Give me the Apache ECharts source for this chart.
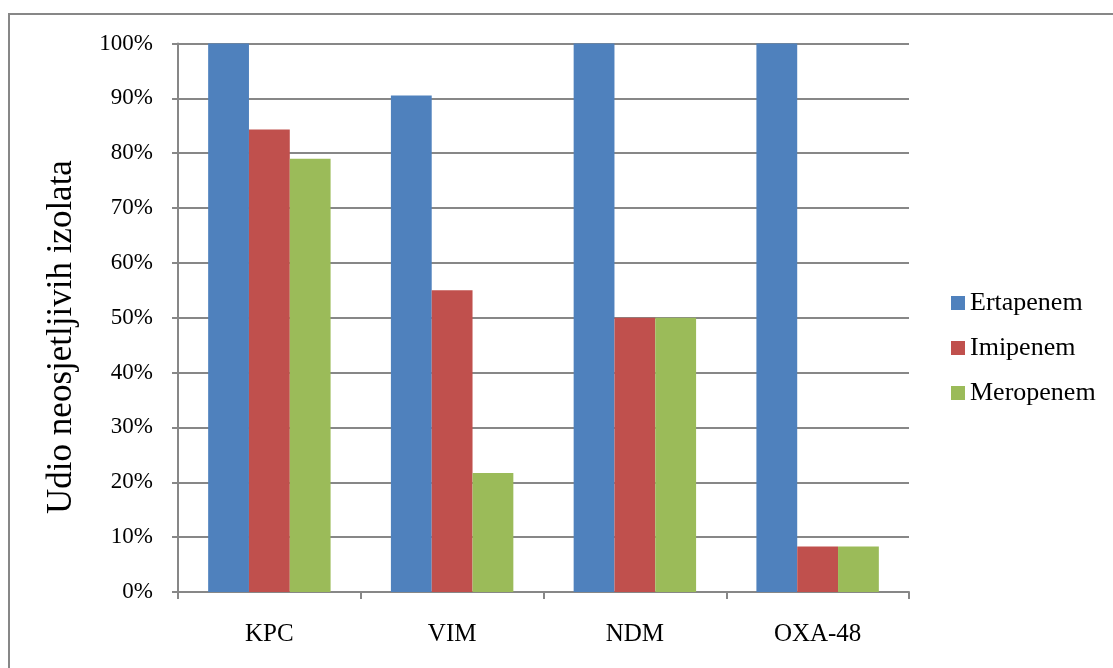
<!DOCTYPE html>
<html>
<head>
<meta charset="utf-8">
<script src="https://cdn.jsdelivr.net/npm/echarts@6/dist/echarts.min.js"></script>
<style>
  html, body { margin: 0; padding: 0; background: #fff; }
  #chart { width: 1113px; height: 668px; }
</style>
</head>
<body>
<div id="chart"></div>
<script>
const categories = ['KPC', 'VIM', 'NDM', 'OXA-48']
const ertapenem = [100, 90.5, 100, 100]
const imipenem = [84.3, 55.0, 50, 8.3]
const meropenem = [79.0, 21.7, 50, 8.3]
const yTicks = [0, 10, 20, 30, 40, 50, 60, 70, 80, 90, 100]
const yTitle = 'Udio neosjetljivih izolata'

const font = '"Liberation Serif", "Times New Roman", serif'

const chart = echarts.init(document.getElementById('chart'))

chart.setOption({
  backgroundColor: '#fff',
  animation: false,
  textStyle: { fontFamily: font, color: '#000' },
  graphic: [
    {
      type: 'rect',
      silent: true,
      shape: { x: 9, y: 14, width: 1200, height: 800 },
      style: { fill: 'none', stroke: '#878787', lineWidth: 2 }
    },
    {
      // axis title, placed like the original
      type: 'text',
      silent: true,
      x: 62,
      y: 337,
      rotation: Math.PI / 2,
      style: {
        text: yTitle,
        font: '35px ' + font,
        fill: '#000',
        align: 'center',
        verticalAlign: 'middle'
      }
    }
  ],
  legend: {
    orient: 'vertical',
    left: 951,
    top: 290,
    padding: 0,
    itemWidth: 14,
    itemHeight: 14,
    itemGap: 19,
    icon: 'rect',
    textStyle: { fontFamily: font, fontSize: 26, color: '#000' },
    data: ['Ertapenem', 'Imipenem', 'Meropenem']
  },
  grid: {
    left: 178,
    right: 1113 - 909,
    top: 43.5,
    bottom: 668 - 592,
    containLabel: false
  },
  xAxis: {
    type: 'category',
    data: categories,
    axisLine: { lineStyle: { color: '#878787', width: 2 } },
    axisTick: { show: true, length: 7, lineStyle: { color: '#878787', width: 2 } },
    axisLabel: { fontFamily: font, fontSize: 25, color: '#000', margin: 30 }
  },
  yAxis: {
    type: 'value',
    min: yTicks[0],
    max: yTicks[yTicks.length - 1],
    interval: 10,
    axisLine: { show: true, lineStyle: { color: '#878787', width: 2 } },
    axisTick: { show: true, length: 6, lineStyle: { color: '#878787', width: 2 } },
    axisLabel: {
      fontFamily: font,
      fontSize: 23,
      color: '#000',
      margin: 25,
      formatter: (v) => v + '%'
    },
    splitLine: { lineStyle: { color: '#878787', width: 2 } }
  },
  series: [
    {
      name: 'Ertapenem',
      type: 'bar',
      data: ertapenem,
      barGap: 0,
      barCategoryGap: '33%',
      itemStyle: { color: '#4F81BD' }
    },
    {
      name: 'Imipenem',
      type: 'bar',
      data: imipenem,
      barGap: 0,
      barCategoryGap: '33%',
      itemStyle: { color: '#C0504D' }
    },
    {
      name: 'Meropenem',
      type: 'bar',
      data: meropenem,
      barGap: 0,
      barCategoryGap: '33%',
      itemStyle: { color: '#9BBB59' }
    }
  ]
})

window.addEventListener('resize', () => {
  chart.resize()
})
</script>
</body>
</html>
